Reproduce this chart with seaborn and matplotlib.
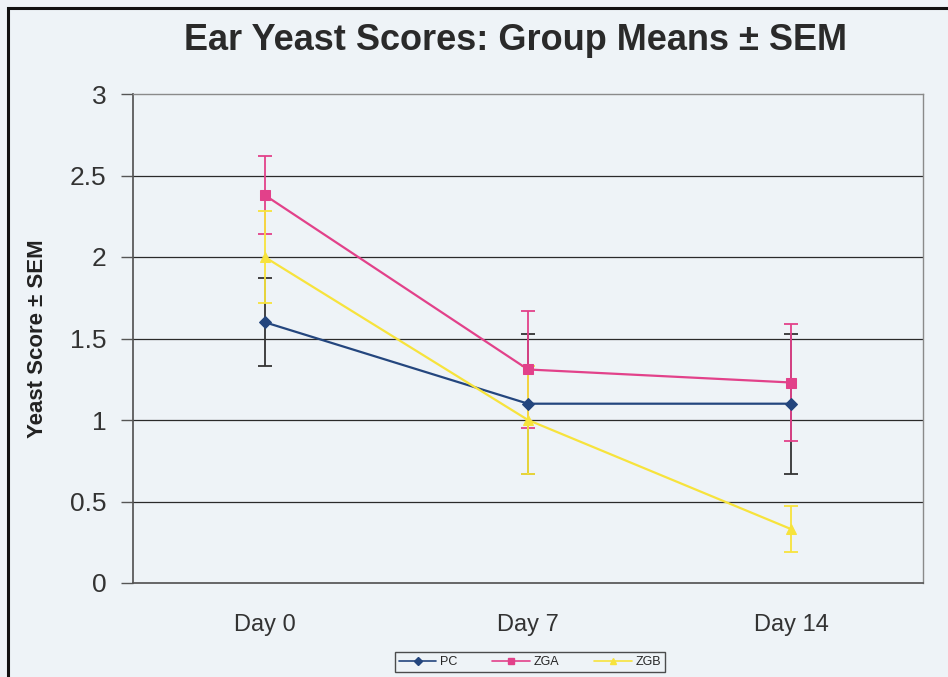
import pandas as pd
import numpy as np
import matplotlib.pyplot as plt
import seaborn as sns
from matplotlib.lines import Line2D
from matplotlib.patches import Rectangle

# Data
days = ['Day 0', 'Day 7', 'Day 14']
pc_mean = [1.60, 1.10, 1.10]
pc_sem = [0.27, 0.43, 0.43]
zga_mean = [2.38, 1.31, 1.23]
zga_sem = [0.24, 0.36, 0.36]
zgb_mean = [2.00, 1.00, 0.33]
zgb_sem = [0.28, 0.33, 0.14]

groups = ['PC', 'ZGA', 'ZGB']
colors = {'PC': '#24467e', 'ZGA': '#e2418a', 'ZGB': '#f7e33c'}
markers = {'PC': 'D', 'ZGA': 's', 'ZGB': '^'}
msizes = {'PC': 6, 'ZGA': 7, 'ZGB': 7}

means = {'PC': pc_mean, 'ZGA': zga_mean, 'ZGB': zgb_mean}
sems = {'PC': pc_sem, 'ZGA': zga_sem, 'ZGB': zgb_sem}

rows = []
for g in groups:
    for i, d in enumerate(days):
        rows.append({'group': g, 'pos': i, 'day': d, 'mean': means[g][i], 'sem': sems[g][i]})
df = pd.DataFrame(rows)

sns.set_theme(style='white')
plt.rcParams['font.family'] = ['Liberation Sans', 'DejaVu Sans']

bg = '#eef3f7'
fig = plt.figure(figsize=(9.48, 6.77), dpi=100, facecolor=bg)
ax = fig.add_axes([133 / 948, 1 - 583 / 677, 790 / 948, 489 / 677])
ax.set_facecolor(bg)

# outer frame of the scanned chart
fig.patches.append(Rectangle((8 / 948, -0.05), 1.2, 1 - 8 / 677 + 0.05,
                             transform=fig.transFigure, fill=False,
                             edgecolor='#111111', linewidth=2.2))

# horizontal gridlines
for yv in [0.5, 1.0, 1.5, 2.0, 2.5]:
    ax.axhline(yv, color='#2a2a2a', linewidth=0.9, zorder=1)

for g in groups:
    sub = df[df['group'] == g]
    ax.errorbar(sub['pos'], sub['mean'], yerr=sub['sem'], fmt='none',
                ecolor=colors[g] if g != 'PC' else '#333333',
                elinewidth=1.3, capsize=5, capthick=1.3, zorder=3)
    sns.lineplot(data=sub, x='pos', y='mean', color=colors[g], marker=markers[g],
                 markersize=msizes[g], markeredgecolor=colors[g], linewidth=1.6,
                 ax=ax, zorder=4, legend=False)

ax.set_xlim(-0.5, 2.5)
ax.set_ylim(0, 3)
ax.set_xticks([0, 1, 2])
ax.set_xticklabels(days, fontsize=17, color='#333333')
ax.set_xticks([-0.5, 0.5, 1.5, 2.5], minor=True)
ax.tick_params(axis='x', which='major', length=0, pad=22)
ax.tick_params(axis='x', which='minor', length=6, width=1, color='#555555', direction='out')
ax.set_yticks([0, 0.5, 1, 1.5, 2, 2.5, 3])
ax.set_yticklabels(['0', '0.5', '1', '1.5', '2', '2.5', '3'], fontsize=19, color='#333333')
ax.tick_params(axis='y', length=9, width=1, color='#555555', direction='out', left=True, pad=10)
ax.set_xlabel('')
ax.set_ylabel('Yeast Score ± SEM', fontsize=16, fontweight='bold', color='#222222', labelpad=16)

for side in ['top', 'right']:
    ax.spines[side].set_color('#8a8a8a')
    ax.spines[side].set_linewidth(1.0)
ax.spines['left'].set_color('#555555')
ax.spines['bottom'].set_color('#555555')

fig.text(516 / 948, 1 - 40 / 677, 'Ear Yeast Scores: Group Means ± SEM',
         ha='center', va='center', fontsize=26, fontweight='bold', color='#2a2a2a')

handles = [Line2D([0], [0], color=colors[g], marker=markers[g], markersize=4, linewidth=1.2)
           for g in groups]
leg = fig.legend(handles, groups, loc='center', bbox_to_anchor=(530 / 948, 1 - 662 / 677),
                 ncol=3, fontsize=9, frameon=True, fancybox=False, handlelength=3,
                 columnspacing=2.8, borderpad=0.3, handletextpad=0.3)
leg.get_frame().set_edgecolor('#222222')
leg.get_frame().set_facecolor(bg)
leg.get_frame().set_linewidth(1.0)

fig.savefig('out.png', dpi=100, facecolor=bg)
